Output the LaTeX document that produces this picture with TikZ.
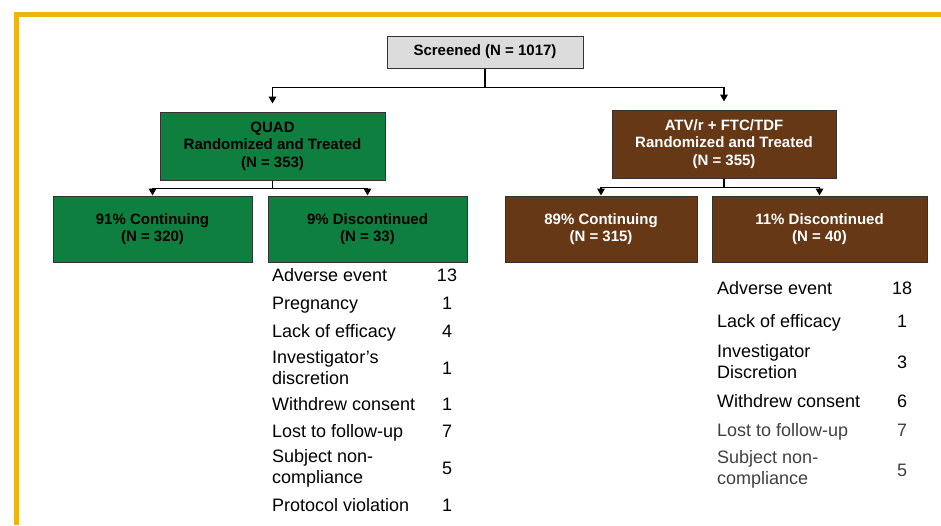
\documentclass[tikz,border=0pt]{standalone}
\usepackage{fontspec}
\usepackage{xcolor}
\usetikzlibrary{arrows.meta}
\setmainfont{Liberation Sans}

\definecolor{quadgreen}{HTML}{0F7F3F}
\definecolor{atvbrown}{HTML}{663815}
\definecolor{framegold}{HTML}{EEB511}
\definecolor{screengray}{HTML}{DCDCDC}

\begin{document}
\begin{tikzpicture}[x=1pt, y=-1pt,
    box/.style={rectangle, draw=black!80, line width=1pt, align=center, font=\bfseries\fontsize{15}{17.5}\selectfont},
    quadbox/.style={box, fill=quadgreen, text=black},
    atvbox/.style={box, fill=atvbrown, text=white},
    reason/.style={anchor=west, align=left, inner sep=0pt, font=\fontsize{18}{21}\selectfont},
    oneline/.style={text height=13pt, text depth=0pt},
    count/.style={inner sep=0pt, oneline, font=\fontsize{18}{21}\selectfont},
    flow/.style={line width=1.8pt, -{Triangle[width=7.5pt,length=7pt]}}
]
\useasboundingbox (0,0) rectangle (941,525);
\draw[framegold, line width=5pt] (16,525) -- (16,14.5) -- (941,14.5);

\node[box, fill=screengray, minimum width=196pt, minimum height=32pt] (scr) at (485,52) {Screened (N = 1017)};
\node[quadbox, minimum width=225pt, minimum height=68pt] (quad) at (272.5,146) {QUAD\\Randomized and Treated\\(N = 353)};
\node[atvbox, minimum width=224pt, minimum height=68pt] (atv) at (724,144) {ATV/r + FTC/TDF\\Randomized and Treated\\(N = 355)};
\node[quadbox, minimum width=199pt, minimum height=66pt] (qcont) at (152.5,229) {91\% Continuing\\(N = 320)};
\node[quadbox, minimum width=199pt, minimum height=66pt] (qdisc) at (367.5,229) {9\% Discontinued\\(N = 33)};
\node[atvbox, minimum width=192pt, minimum height=66pt] (acont) at (601,229) {89\% Continuing\\(N = 315)};
\node[atvbox, minimum width=215pt, minimum height=66pt] (adisc) at (819.5,229) {11\% Discontinued\\(N = 40)};

% connectors
\draw[line width=1.8pt] (scr.south) -- ++(0,19) coordinate (split);
\draw[flow, shorten >=8pt] (split) -| (quad.north);
\draw[flow, shorten >=8pt] (split) -| (atv.north);
\draw[line width=1.8pt] (quad.south) -- ++(0,8) coordinate (qsplit);
\draw[flow] (qsplit) -| (qcont.north);
\draw[flow] (qsplit) -| (qdisc.north);
\draw[line width=1.8pt] (atv.south) -- ++(0,9) coordinate (asplit);
\draw[flow] (asplit) -| (acont.north);
\draw[flow] (asplit) -| (adisc.north);

% QUAD reasons
\node[reason, oneline] (q1) at (272,275) {Adverse event};
\node[count] (q1n) at (447,275) {13};
\node[reason, oneline] (q2) at (272,303) {Pregnancy};
\node[count] (q2n) at (447,303) {1};
\node[reason, oneline] (q3) at (272,331) {Lack of efficacy};
\node[count] (q3n) at (447,331) {4};
\node[reason] (q4) at (272,367.5) {Investigator's\\discretion};
\node[count] (q4n) at (447,367.5) {1};
\node[reason, oneline] (q5) at (272,404) {Withdrew consent};
\node[count] (q5n) at (447,404) {1};
\node[reason, oneline] (q6) at (272,431) {Lost to follow-up};
\node[count] (q6n) at (447,431) {7};
\node[reason] (q7) at (272,468) {Subject non-\\compliance};
\node[count] (q7n) at (447,468) {5};
\node[reason, oneline] (q8) at (272,505) {Protocol violation};
\node[count] (q8n) at (447,505) {1};

% ATV/r reasons
\node[reason, oneline] (a1) at (717,288) {Adverse event};
\node[count] (a1n) at (902,288) {18};
\node[reason, oneline] (a2) at (717,321) {Lack of efficacy};
\node[count] (a2n) at (902,321) {1};
\node[reason] (a3) at (717,361.5) {Investigator\\Discretion};
\node[count] (a3n) at (902,361.5) {3};
\node[reason, oneline] (a4) at (717,401) {Withdrew consent};
\node[count] (a4n) at (902,401) {6};
\node[reason, oneline, text=black!75] (a5) at (717,430) {Lost to follow-up};
\node[count, text=black!75] (a5n) at (902,430) {7};
\node[reason, text=black!75] (a6) at (717,469.5) {Subject non-\\compliance};
\node[count, text=black!75] (a6n) at (902,469.5) {5};
\end{tikzpicture}
\end{document}
